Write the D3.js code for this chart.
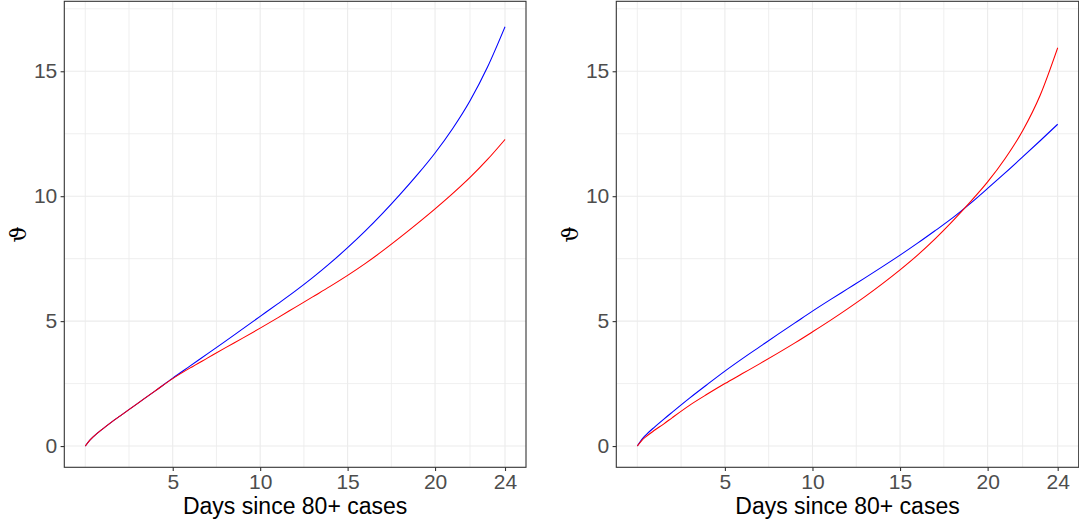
<!DOCTYPE html>
<html>
<head>
<meta charset="utf-8">
<script src="https://cdn.jsdelivr.net/npm/d3@7"></script>
<style>
  html, body { margin: 0; padding: 0; background: #ffffff; }
  svg { display: block; }
</style>
</head>
<body>
<svg id="chart" width="1079" height="522"></svg>
<script>
// Days since 80+ cases at which each curve is evaluated
const days = [0, 0.25, 0.5, 1, 1.5, 2, 3, 4, 5, 6, 7, 8, 9, 10, 11, 12, 13, 14, 15, 16, 17, 18, 19, 20, 21, 22, 23, 24];

// Left panel
const leftBlue = [0, 0.23, 0.40, 0.69, 0.96, 1.21, 1.71, 2.21, 2.72, 3.21, 3.70, 4.19, 4.69, 5.19, 5.69, 6.20, 6.74, 7.32, 7.94, 8.60, 9.31, 10.07, 10.87, 11.73, 12.70, 13.82, 15.17, 16.78];
const leftRed  = [0, 0.23, 0.40, 0.69, 0.96, 1.21, 1.71, 2.21, 2.70, 3.13, 3.53, 3.93, 4.32, 4.72, 5.13, 5.55, 5.97, 6.39, 6.83, 7.30, 7.81, 8.35, 8.91, 9.49, 10.10, 10.75, 11.47, 12.27];

// Right panel
const rightBlue = [0, 0.26, 0.45, 0.77, 1.07, 1.36, 1.93, 2.47, 3.00, 3.50, 3.98, 4.46, 4.93, 5.40, 5.85, 6.29, 6.73, 7.18, 7.64, 8.12, 8.62, 9.13, 9.70, 10.31, 10.93, 11.57, 12.22, 12.88];
const rightRed  = [0, 0.22, 0.38, 0.64, 0.88, 1.14, 1.64, 2.08, 2.50, 2.90, 3.30, 3.71, 4.13, 4.57, 5.02, 5.49, 5.98, 6.50, 7.05, 7.64, 8.29, 9.00, 9.76, 10.57, 11.51, 12.62, 14.04, 15.94];

// Axis breaks
const xTicks = [5, 10, 15, 20, 24];
const xMinor = [0, 2.5, 7.5, 12.5, 17.5, 22];
const yTicks = [0, 5, 10, 15];
const yMinor = [2.5, 7.5, 12.5, 17.5];

const xTitle = "Days since 80+ cases";
const yTitle = "\u03D1";

const svg = d3.select("#chart");
svg.append("rect").attr("width", 1079).attr("height", 522).attr("fill", "#ffffff");

const panelTop = 1.3, panelBottom = 467.3;
const y = d3.scaleLinear().domain([-0.85, 17.8]).range([panelBottom, panelTop]);

function drawPanel(left, right, blue, red) {
  const x = d3.scaleLinear().domain([-1.2, 25.2]).range([left, right]);
  const g = svg.append("g");

  // grid
  const grid = g.append("g");
  grid.selectAll(".vminor").data(xMinor).join("line")
    .attr("x1", d => x(d)).attr("x2", d => x(d))
    .attr("y1", panelTop).attr("y2", panelBottom)
    .attr("stroke", "#EBEBEB").attr("stroke-width", 0.8);
  grid.selectAll(".hminor").data(yMinor).join("line")
    .attr("y1", d => y(d)).attr("y2", d => y(d))
    .attr("x1", left).attr("x2", right)
    .attr("stroke", "#EBEBEB").attr("stroke-width", 0.8);
  grid.selectAll(".vmajor").data(xTicks).join("line")
    .attr("x1", d => x(d)).attr("x2", d => x(d))
    .attr("y1", panelTop).attr("y2", panelBottom)
    .attr("stroke", "#EBEBEB").attr("stroke-width", 1.1);
  grid.selectAll(".hmajor").data(yTicks).join("line")
    .attr("y1", d => y(d)).attr("y2", d => y(d))
    .attr("x1", left).attr("x2", right)
    .attr("stroke", "#EBEBEB").attr("stroke-width", 1.1);

  // curves
  const line = d3.line()
    .x((d, i) => x(days[i]))
    .y(d => y(d))
    .curve(d3.curveMonotoneX);
  g.append("path").datum(blue).attr("d", line)
    .attr("fill", "none").attr("stroke", "#0000FF").attr("stroke-width", 1.1);
  g.append("path").datum(red).attr("d", line)
    .attr("fill", "none").attr("stroke", "#FF0000").attr("stroke-width", 1.1);

  // border
  g.append("rect")
    .attr("x", left).attr("y", panelTop)
    .attr("width", right - left).attr("height", panelBottom - panelTop)
    .attr("fill", "none").attr("stroke", "#333333").attr("stroke-width", 1.1);

  // axes
  const xAxis = g.append("g").attr("transform", `translate(0,${panelBottom})`)
    .call(d3.axisBottom(x).tickValues(xTicks).tickSize(3.7).tickPadding(3));
  const yAxis = g.append("g").attr("transform", `translate(${left},0)`)
    .call(d3.axisLeft(y).tickValues(yTicks).tickSize(3.7).tickPadding(3.3));
  [xAxis, yAxis].forEach(a => {
    a.select(".domain").remove();
    a.selectAll(".tick line").attr("stroke", "#333333").attr("stroke-width", 1.1);
    a.selectAll(".tick text")
      .attr("fill", "#4D4D4D")
      .style("font-family", "'Liberation Sans', Arial, sans-serif")
      .style("font-size", "21px");
  });

  // axis titles
  g.append("text")
    .attr("x", (left + right) / 2).attr("y", 514)
    .attr("text-anchor", "middle")
    .style("font-family", "'Liberation Sans', Arial, sans-serif")
    .style("font-size", "23px")
    .attr("fill", "#000000")
    .text(xTitle);
  g.append("text")
    .attr("transform", `translate(${left - 38},${(panelTop + panelBottom) / 2}) rotate(-90)`)
    .attr("text-anchor", "middle")
    .style("font-family", "'DejaVu Serif', serif")
    .style("font-size", "23px")
    .attr("fill", "#000000")
    .text(yTitle);
}

drawPanel(64.3, 526, leftBlue, leftRed);
drawPanel(616.3, 1078.7, rightBlue, rightRed);
</script>
</body>
</html>
